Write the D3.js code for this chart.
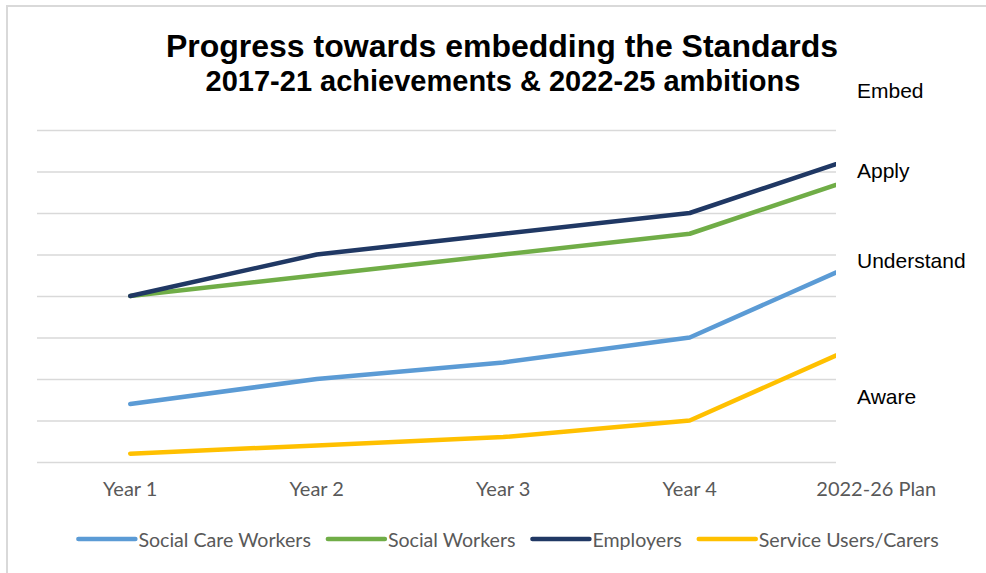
<!DOCTYPE html>
<html>
<head>
<meta charset="utf-8">
<script src="https://cdn.jsdelivr.net/npm/d3@7"></script>
<style>
  body { margin: 0; background: #fff; }
  svg { display: block; }
</style>
</head>
<body>
<div id="chart"></div>
<script>
// chart data
var categories = ["Year 1", "Year 2", "Year 3", "Year 4", "2022-26 Plan"];
var socialCareWorkers = [1.4, 2, 2.4, 3, 5];
var socialWorkers = [4, 4.5, 5, 5.5, 7];
var employers = [4, 5, 5.5, 6, 7.5];
var serviceUsers = [0.2, 0.4, 0.6, 1, 3];
var seriesNames = ["Social Care Workers", "Social Workers", "Employers", "Service Users/Carers"];
var levelLabels = ["Embed", "Apply", "Understand", "Aware"];

var colors = ["#5B9BD5", "#70AD47", "#203864", "#FFC000"];
var series = [socialCareWorkers, socialWorkers, employers, serviceUsers];

var svgWidth = 986;
var svgHeight = 573;

var svg = d3.select("#chart")
    .append("svg")
    .attr("width", svgWidth)
    .attr("height", svgHeight);

// outer border (top and left only visible)
svg.append("path")
    .attr("d", "M7,573 V6 H986")
    .attr("fill", "none")
    .attr("stroke", "#d9d9d9")
    .attr("stroke-width", 2);

// plot area: the last category sits under the label box, so clip at 836
var plotLeft = 37, plotRight = 836;
var xScale = d3.scaleBand()
    .domain(categories)
    .range([plotLeft, 969.5]);

var yScale = d3.scaleLinear()
    .domain([0, 8])
    .range([462, 130]);

svg.append("clipPath")
    .attr("id", "plotClip")
    .append("rect")
    .attr("x", 0)
    .attr("y", 0)
    .attr("width", plotRight)
    .attr("height", svgHeight);

// gridlines
var grid = svg.append("g")
    .attr("transform", `translate(${plotLeft}, 0)`)
    .call(d3.axisLeft(yScale).ticks(8).tickSize(-(plotRight - plotLeft)).tickFormat(""));
grid.select(".domain").remove();
grid.selectAll("line")
    .attr("stroke", "#d9d9d9")
    .attr("stroke-width", 1.3);

// x axis labels
var xAxis = svg.append("g")
    .attr("transform", "translate(0, 462)")
    .call(d3.axisBottom(xScale).tickSize(0).tickPadding(20));
xAxis.select(".domain").remove();
xAxis.selectAll("text")
    .attr("font-family", "Lato, 'Open Sans', sans-serif")
    .attr("font-size", "20px")
    .attr("fill", "#595959");

// lines
var line = d3.line()
    .x((d, i) => xScale(categories[i]) + xScale.bandwidth() / 2)
    .y(d => yScale(d));

svg.append("g")
    .attr("clip-path", "url(#plotClip)")
    .selectAll("path")
    .data(series)
    .enter()
    .append("path")
    .attr("d", d => line(d))
    .attr("fill", "none")
    .attr("stroke", (d, i) => colors[i])
    .attr("stroke-width", 4.5)
    .attr("stroke-linecap", "round")
    .attr("stroke-linejoin", "round");

// title
var title = svg.append("g")
    .attr("text-anchor", "middle")
    .attr("font-family", "'Liberation Sans', Arial, sans-serif")
    .attr("font-weight", "bold")
    .attr("fill", "#000");
title.append("text").attr("x", 502).attr("y", 57).attr("font-size", "32px")
    .text("Progress towards embedding the Standards");
title.append("text").attr("x", 503).attr("y", 91).attr("font-size", "29px")
    .text("2017-21 achievements & 2022-25 ambitions");

// level labels on the right
var levelY = [98, 178, 268, 404];
svg.selectAll(".level")
    .data(levelLabels)
    .enter()
    .append("text")
    .attr("class", "level")
    .attr("x", 857)
    .attr("y", (d, i) => levelY[i])
    .attr("font-family", "'Liberation Sans', Arial, sans-serif")
    .attr("font-size", "21px")
    .attr("fill", "#000")
    .text(d => d);

// legend
var legend = svg.append("g");
var items = legend.selectAll("g")
    .data(seriesNames)
    .enter()
    .append("g");
items.append("line")
    .attr("x1", 0).attr("x2", 57)
    .attr("y1", 0).attr("y2", 0)
    .attr("stroke", (d, i) => colors[i])
    .attr("stroke-width", 4.5)
    .attr("stroke-linecap", "round");
items.append("text")
    .attr("x", 60)
    .attr("y", 8)
    .attr("font-family", "Lato, 'Open Sans', sans-serif")
    .attr("font-size", "19.6px")
    .attr("fill", "#595959")
    .text(d => d);

var offsets = [];
var cursor = 0;
items.each(function(d, i) {
    offsets.push(cursor);
    cursor += 60 + d3.select(this).select("text").node().getComputedTextLength() + 17;
});
var legendWidth = cursor - 17;
var legendStart = 508.5 - legendWidth / 2;
items.attr("transform", (d, i) => `translate(${legendStart + offsets[i]}, 539)`);
</script>
</body>
</html>
